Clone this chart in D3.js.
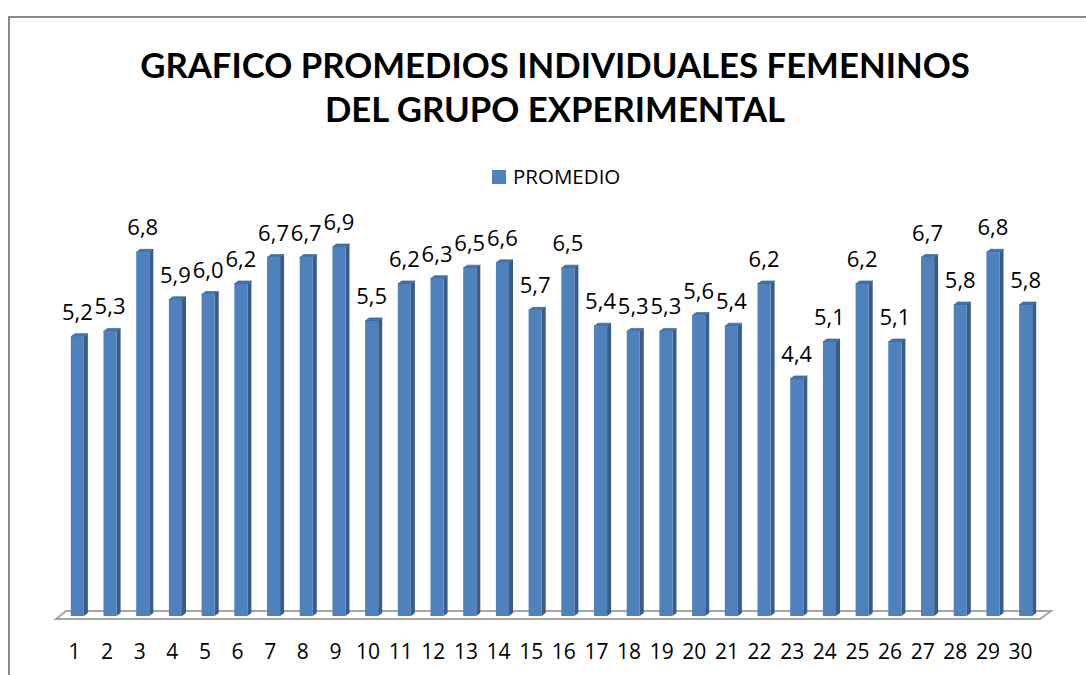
<!DOCTYPE html>
<html>
<head>
<meta charset="utf-8">
<script src="https://cdn.jsdelivr.net/npm/d3@7"></script>
<style>
  body { margin: 0; background: #fff; }
  svg { display: block; }
  .lbl { font-family: "Open Sans", Lato, sans-serif; font-size: 22px; fill: #000; }
  .tick .lbl { font-size: 21px; }
</style>
</head>
<body>
<div class="chart-area"></div>
<script>
// data
const alumnas = ["1","2","3","4","5","6","7","8","9","10","11","12","13","14","15",
                 "16","17","18","19","20","21","22","23","24","25","26","27","28","29","30"];
const promedios = [5.2, 5.3, 6.8, 5.9, 6.0, 6.2, 6.7, 6.7, 6.9, 5.5,
                   6.2, 6.3, 6.5, 6.6, 5.7, 6.5, 5.4, 5.3, 5.3, 5.6,
                   5.4, 6.2, 4.4, 5.1, 6.2, 5.1, 6.7, 5.8, 6.8, 5.8];
const serieNombre = "PROMEDIO";
const tituloLineas = ["GRAFICO PROMEDIOS INDIVIDUALES FEMENINOS", "DEL GRUPO EXPERIMENTAL"];
const yDominio = [0, 8];

let width = 1086;
let height = 675;

const svg = d3.select(".chart-area").append("svg")
  .attr("width", width)
  .attr("height", height)
  .attr("viewBox", [0, 0, width, height]);

// outer frame of the chart
svg.append("rect")
  .attr("x", 9).attr("y", 17)
  .attr("width", width + 20).attr("height", height + 20)
  .attr("fill", "#fff")
  .attr("stroke", "#898989")
  .attr("stroke-width", 2);

const x = d3.scaleBand()
  .domain(alumnas)
  .range([61, 1042])
  .paddingInner(0.6)
  .paddingOuter(0.3);

const y = d3.scaleLinear()
  .domain(yDominio)
  .range([611, 189]);

// labels sit a bit to the left (3d floor is seen from the front)
const xLabel = d3.scalePoint()
  .domain(alumnas)
  .range([74, 1020]);

const dx = 4, dy = -3;     // depth of the 3d columns
const floorFront = 619, floorBack = 611, barBase = 616;

// floor
svg.append("path")
  .attr("d", d3.line()([[56, floorFront], [66, floorBack], [1051, floorBack], [1040, floorFront]]) + "Z")
  .attr("fill", "#fff")
  .attr("stroke", "#a6a6a6")
  .attr("stroke-width", 2);

// columns
const bars = svg.append("g")
  .selectAll("g")
  .data(promedios)
  .join("g");

bars.append("path")   // side face
  .attr("d", (d, i) => {
    let x1 = x(alumnas[i]) + x.bandwidth();
    return d3.line()([[x1, y(d)], [x1 + dx, y(d) + dy], [x1 + dx, barBase + dy], [x1, barBase]]) + "Z";
  })
  .attr("fill", "#385d8a");

bars.append("path")   // top face
  .attr("d", (d, i) => {
    let x0 = x(alumnas[i]), x1 = x0 + x.bandwidth();
    return d3.line()([[x0, y(d)], [x0 + dx, y(d) + dy], [x1 + dx, y(d) + dy], [x1, y(d)]]) + "Z";
  })
  .attr("fill", "#4674ab")
  .attr("stroke", "#2f5584")
  .attr("stroke-width", 0.6);

bars.append("rect")   // front face
  .attr("x", (d, i) => x(alumnas[i]))
  .attr("y", d => y(d))
  .attr("width", x.bandwidth())
  .attr("height", d => barBase - y(d))
  .attr("fill", "#4f81bd");

// value labels
const fmt = v => d3.format(".1f")(v).replace(".", ",");
svg.append("g")
  .selectAll("text")
  .data(promedios)
  .join("text")
  .attr("class", "lbl")
  .attr("x", (d, i) => x(alumnas[i]) + x.bandwidth() / 2)
  .attr("y", d => y(d) - 17)
  .attr("text-anchor", "middle")
  .text(fmt);

// category axis
const axis = svg.append("g")
  .attr("transform", "translate(0,659)")
  .call(d3.axisBottom(xLabel).tickSize(0));
axis.select(".domain").remove();
axis.attr("font-family", null).attr("font-size", null);
axis.selectAll("text")
  .attr("class", "lbl")
  .attr("y", 0)
  .attr("dy", 0);

// title, sized to the width of the original
const title = svg.append("g");
const titleWidth = 830;
title.selectAll("text")
  .data(tituloLineas)
  .join("text")
  .attr("x", 555)
  .attr("y", (d, i) => 78 + i * 44)
  .attr("text-anchor", "middle")
  .attr("font-family", "Lato, 'Open Sans', sans-serif")
  .attr("font-weight", "bold")
  .attr("font-size", 32)
  .text(d => d);
let t0 = title.select("text").node();
let fs = 32 * titleWidth / t0.getComputedTextLength();
title.selectAll("text").attr("font-size", fs);

// legend
const legend = svg.append("g");
legend.append("rect")
  .attr("x", 492).attr("y", 170)
  .attr("width", 14).attr("height", 14)
  .attr("fill", "#4f81bd");
legend.append("text")
  .attr("class", "lbl")
  .attr("x", 513).attr("y", 184)
  .style("font-size", "20.5px")
  .text(serieNombre);
</script>
</body>
</html>
